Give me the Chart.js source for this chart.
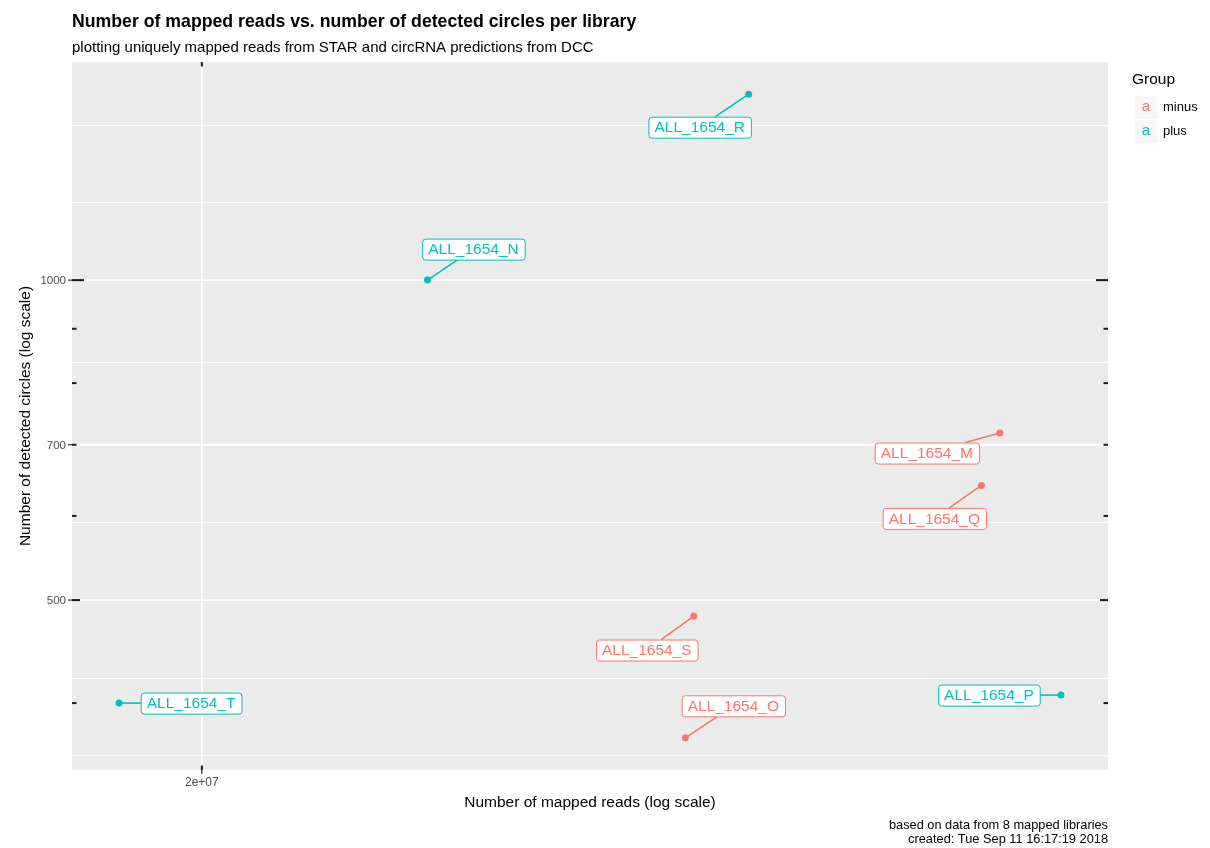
<!DOCTYPE html>
<html>
<head>
<meta charset="utf-8">
<script src="https://cdn.jsdelivr.net/npm/chart.js@4.4.1/dist/chart.umd.min.js"></script>
<style>
  body { margin: 0; background: #fff; }
  canvas { display: block; }
</style>
</head>
<body>
<canvas id="chart" width="1210" height="848"></canvas>
<script>
// Data (mapped reads / detected circles per library)
const libraries = ['ALL_1654_M', 'ALL_1654_N', 'ALL_1654_O', 'ALL_1654_P',
                   'ALL_1654_Q', 'ALL_1654_R', 'ALL_1654_S', 'ALL_1654_T'];
const groups = ['minus', 'plus', 'minus', 'plus', 'minus', 'plus', 'minus', 'plus'];
const mappedReads = [2.643e7, 2.164e7, 2.368e7, 2.700e7, 2.626e7, 2.421e7, 2.375e7, 1.943e7];
const detectedCircles = [718, 1000, 371, 407, 641, 1496, 483, 400];

const groupNames = ['minus', 'plus'];
const groupColors = { minus: '#F8766D', plus: '#00BFC4' };

const xTickValues = [2e7];
const xTickLabels = ['2e+07'];
const yTickValues = [500, 700, 1000];
const yTickLabels = ['500', '700', '1000'];

// where the repelled labels ended up, offset from their point (px)
const labelOffsets = [[-73, 20], [46, -31], [48, -32], [-72, 0],
                      [-47, 33], [-49, 33], [-47, 34], [72, 0]];

const FONT = '"Liberation Sans", Arial, Helvetica, sans-serif';

// ggplot style 5% expansion, in log space
function logLimits(vals) {
    var lo = Math.log10(Math.min.apply(null, vals));
    var hi = Math.log10(Math.max.apply(null, vals));
    var pad = (hi - lo) * 0.05;
    return [Math.pow(10, lo - pad), Math.pow(10, hi + pad)];
}
var xLim = logLimits(mappedReads);
var yLim = logLimits(detectedCircles);

// minor breaks the way ggplot computes them (midpoints in transformed space)
function minorBreaks(majors, lim) {
    var b = majors.map(Math.log10);
    if (b.length < 2) return [];
    var bd = b[1] - b[0];
    var l0 = Math.log10(lim[0]), l1 = Math.log10(lim[1]);
    if (l0 < b[0]) b.unshift(b[0] - bd);
    if (l1 > b[b.length - 1]) b.push(b[b.length - 1] + bd);
    var out = [];
    for (var i = 0; i < b.length - 1; i++) { out.push(b[i]); out.push((b[i] + b[i + 1]) / 2); }
    out.push(b[b.length - 1]);
    return out.filter(function (v) { return v >= l0 && v <= l1; })
              .map(function (v) { return Math.pow(10, v); });
}

function datasetFor(g) {
    var pts = [];
    libraries.forEach(function (lib, i) {
        if (groups[i] === g) pts.push({ x: mappedReads[i], y: detectedCircles[i] });
    });
    return {
        label: g,
        data: pts,
        backgroundColor: groupColors[g],
        borderWidth: 0,
        pointRadius: 3.5,
        pointHoverRadius: 3.5
    };
}

var ggplotLook = {
    id: 'ggplotLook',
    beforeDatasetsDraw: function (chart) {
        var ctx = chart.ctx, a = chart.chartArea;
        var xs = chart.scales.x, ys = chart.scales.y;
        ctx.save();
        ctx.fillStyle = '#EBEBEB';
        ctx.fillRect(a.left, a.top, a.right - a.left, a.bottom - a.top);

        // minor grid
        ctx.strokeStyle = '#FFFFFF';
        ctx.lineWidth = 0.8;
        minorBreaks(yTickValues, yLim).forEach(function (v) {
            var y = Math.round(ys.getPixelForValue(v)) + 0.5;
            ctx.beginPath(); ctx.moveTo(a.left, y); ctx.lineTo(a.right, y); ctx.stroke();
        });
        minorBreaks(xTickValues, xLim).forEach(function (v) {
            var x = Math.round(xs.getPixelForValue(v)) + 0.5;
            ctx.beginPath(); ctx.moveTo(x, a.top); ctx.lineTo(x, a.bottom); ctx.stroke();
        });
        // major grid
        ctx.lineWidth = 1.8;
        yTickValues.forEach(function (v) {
            var y = ys.getPixelForValue(v);
            ctx.beginPath(); ctx.moveTo(a.left, y); ctx.lineTo(a.right, y); ctx.stroke();
        });
        xTickValues.forEach(function (v) {
            var x = xs.getPixelForValue(v);
            ctx.beginPath(); ctx.moveTo(x, a.top); ctx.lineTo(x, a.bottom); ctx.stroke();
        });

        // outside axis ticks + labels
        ctx.strokeStyle = '#333333';
        ctx.lineWidth = 1.2;
        ctx.fillStyle = '#4D4D4D';
        ctx.font = '11.5px ' + FONT;
        ctx.textAlign = 'right';
        ctx.textBaseline = 'middle';
        yTickValues.forEach(function (v, i) {
            var y = ys.getPixelForValue(v);
            ctx.beginPath(); ctx.moveTo(a.left - 4, y); ctx.lineTo(a.left, y); ctx.stroke();
            ctx.fillText(yTickLabels[i], a.left - 6, y + 1);
        });
        ctx.font = '12px ' + FONT;
        ctx.textAlign = 'center';
        ctx.textBaseline = 'top';
        xTickValues.forEach(function (v, i) {
            var x = xs.getPixelForValue(v);
            ctx.beginPath(); ctx.moveTo(x, a.bottom); ctx.lineTo(x, a.bottom + 4); ctx.stroke();
            ctx.fillText(xTickLabels[i], x, a.bottom + 7);
        });

        // log ticks inside the panel (annotation_logticks)
        ctx.strokeStyle = '#1A1A1A';
        ctx.lineWidth = 2;
        function tickLen(v) {
            var m = Math.round(v / Math.pow(10, Math.floor(Math.log10(v) + 1e-9)));
            return m === 1 ? 12 : (m === 5 ? 8 : 4.5);
        }
        function logTickValues(lim) {
            var out = [];
            for (var e = Math.floor(Math.log10(lim[0])); e <= Math.ceil(Math.log10(lim[1])); e++) {
                for (var k = 1; k <= 9; k++) {
                    var v = k * Math.pow(10, e);
                    if (v >= lim[0] && v <= lim[1]) out.push(v);
                }
            }
            return out;
        }
        ctx.save();
        ctx.beginPath(); ctx.rect(a.left, a.top, a.right - a.left, a.bottom - a.top); ctx.clip();
        logTickValues(yLim).forEach(function (v) {
            var y = ys.getPixelForValue(v), L = tickLen(v);
            ctx.beginPath(); ctx.moveTo(a.left, y); ctx.lineTo(a.left + L, y); ctx.stroke();
            ctx.beginPath(); ctx.moveTo(a.right, y); ctx.lineTo(a.right - L, y); ctx.stroke();
        });
        logTickValues(xLim).forEach(function (v) {
            var x = xs.getPixelForValue(v), L = tickLen(v);
            ctx.beginPath(); ctx.moveTo(x, a.top); ctx.lineTo(x, a.top + L); ctx.stroke();
            ctx.beginPath(); ctx.moveTo(x, a.bottom); ctx.lineTo(x, a.bottom - L); ctx.stroke();
        });
        ctx.restore();

        // titles
        ctx.fillStyle = '#000000';
        ctx.textAlign = 'left';
        ctx.textBaseline = 'alphabetic';
        ctx.font = 'bold 17.7px ' + FONT;
        ctx.fillText('Number of mapped reads vs. number of detected circles per library', a.left, 27);
        ctx.font = '15px ' + FONT;
        ctx.fillText('plotting uniquely mapped reads from STAR and circRNA predictions from DCC', a.left, 52);

        ctx.font = '15.5px ' + FONT;
        ctx.textAlign = 'center';
        ctx.fillText('Number of mapped reads (log scale)', (a.left + a.right) / 2, 807);
        ctx.save();
        ctx.translate(30, (a.top + a.bottom) / 2);
        ctx.rotate(-Math.PI / 2);
        ctx.fillText('Number of detected circles (log scale)', 0, 0);
        ctx.restore();

        // caption
        ctx.font = '12.8px ' + FONT;
        ctx.textAlign = 'right';
        ctx.fillText('based on data from 8 mapped libraries', a.right, 829);
        ctx.fillText('created: Tue Sep 11 16:17:19 2018', a.right, 843);

        // legend
        ctx.textAlign = 'left';
        ctx.font = '15.5px ' + FONT;
        ctx.fillText('Group', 1132, 84);
        groupNames.forEach(function (g, i) {
            var cy = 107 + i * 24;
            ctx.fillStyle = '#F7F7F7';
            ctx.fillRect(1134, cy - 11, 23, 23);
            ctx.fillStyle = groupColors[g];
            ctx.font = '15px ' + FONT;
            ctx.textAlign = 'center';
            ctx.textBaseline = 'middle';
            ctx.fillText('a', 1146, cy);
            ctx.fillStyle = '#000000';
            ctx.font = '13px ' + FONT;
            ctx.textAlign = 'left';
            ctx.fillText(g, 1163, cy);
        });
        ctx.restore();
    },
    afterDatasetsDraw: function (chart) {
        var ctx = chart.ctx;
        var xs = chart.scales.x, ys = chart.scales.y;
        ctx.save();
        ctx.font = '15.5px ' + FONT;
        libraries.forEach(function (lib, i) {
            var col = groupColors[groups[i]];
            var px = xs.getPixelForValue(mappedReads[i]);
            var py = ys.getPixelForValue(detectedCircles[i]);
            var cx = px + labelOffsets[i][0], cy = py + labelOffsets[i][1];
            var w = ctx.measureText(lib).width + 12, h = 21;
            var bx = cx - w / 2, by = cy - h / 2;
            // segment from point to the box edge
            var dx = cx - px, dy = cy - py;
            var t = Math.min(
                dx !== 0 ? Math.abs((w / 2) / dx) : Infinity,
                dy !== 0 ? Math.abs((h / 2) / dy) : Infinity);
            var ex = cx - dx * t, ey = cy - dy * t;
            ctx.strokeStyle = col;
            ctx.lineWidth = 1.6;
            ctx.beginPath(); ctx.moveTo(px, py); ctx.lineTo(ex, ey); ctx.stroke();
            // box
            ctx.fillStyle = '#FFFFFF';
            ctx.lineWidth = 1;
            ctx.beginPath();
            ctx.roundRect(bx + 0.5, by + 0.5, w, h, 3);
            ctx.fill();
            ctx.stroke();
            ctx.fillStyle = col;
            ctx.textAlign = 'center';
            ctx.textBaseline = 'middle';
            ctx.fillText(lib, cx, cy + 1);
        });
        ctx.restore();
    }
};

new Chart(document.getElementById('chart'), {
    type: 'scatter',
    data: { datasets: groupNames.map(datasetFor) },
    options: {
        responsive: false,
        animation: false,
        devicePixelRatio: 1,
        layout: { padding: { left: 72, top: 62, right: 102, bottom: 78 } },
        plugins: { legend: { display: false }, tooltip: { enabled: false } },
        scales: {
            x: { type: 'logarithmic', display: false, min: xLim[0], max: xLim[1] },
            y: { type: 'logarithmic', display: false, min: yLim[0], max: yLim[1] }
        }
    },
    plugins: [ggplotLook]
});
</script>
</body>
</html>
